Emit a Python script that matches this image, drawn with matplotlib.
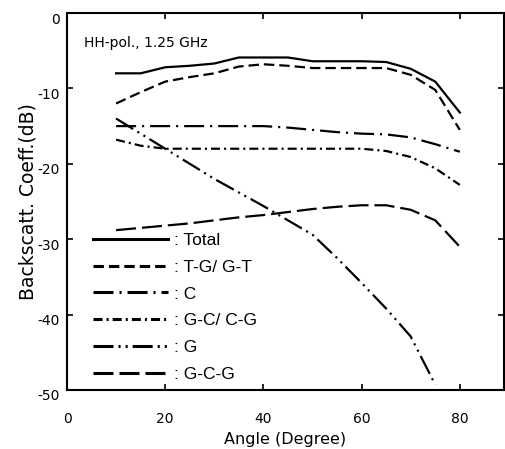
import numpy as np
import matplotlib
matplotlib.use("Agg")
import matplotlib.pyplot as plt
from matplotlib.transforms import ScaledTranslation

plt.rcParams['lines.scale_dashes'] = False
plt.rcParams['axes.unicode_minus'] = False

angles = [10, 15, 20, 25, 30, 35, 40, 45, 50, 55, 60, 65, 70, 75, 80]
total = [-8.0, -8.0, -7.2, -7.0, -6.7, -5.9, -5.9, -5.9, -6.4, -6.4, -6.4, -6.5, -7.4, -9.1, -13.2]
tg_gt = [-12.0, -10.5, -9.1, -8.5, -8.0, -7.1, -6.8, -7.0, -7.3, -7.3, -7.3, -7.3, -8.2, -10.2, -15.5]
c_dir = [-15.0, -15.0, -15.0, -15.0, -15.0, -15.0, -15.0, -15.2, -15.5, -15.8, -16.0, -16.1, -16.5, -17.4, -18.4]
gc_cg = [-16.8, -17.6, -18.0, -18.0, -18.0, -18.0, -18.0, -18.0, -18.0, -18.0, -18.0, -18.3, -19.1, -20.6, -22.8]
g_dir = [-14.0, -16.0, -18.0, -20.0, -22.0, -23.8, -25.6, -27.5, -29.4, -32.5, -35.8, -39.2, -42.9, -49.3, np.nan]
gcg = [-28.8, -28.5, -28.2, -27.9, -27.5, -27.1, -26.8, -26.4, -26.0, -25.7, -25.5, -25.5, -26.1, -27.5, -31.0]

labels = [": Total", ": T-G/ G-T", ": C", ": G-C/ C-G", ": G", ": G-C-G"]
xticks = [0, 20, 40, 60, 80]
yticks = [0, -10, -20, -30, -40, -50]

styles = [
    (0, ()),
    (0, (7.5, 3.6)),
    (0, (14.4, 4.3, 1.5, 4.3)),
    (0, (6.5, 2.9, 1.5, 2.9)),
    (0, (14.4, 3.6, 1.5, 3.6, 1.5, 3.6)),
    (0, (14.4, 4.3)),
]

fig = plt.figure(figsize=(5.05, 4.49), dpi=100)
ax = fig.add_axes([67/505, 1 - 390/449, 437/505, 377/449])

series = [total, tg_gt, c_dir, gc_cg, g_dir, gcg]
for ys, ls, lab in zip(series, styles, labels):
    if ls[1] == ():
        ax.plot(angles, ys, color='black', lw=1.6, linestyle='-', label=lab)
    else:
        ax.plot(angles, ys, color='black', lw=1.6, linestyle=ls, label=lab)

ax.set_xlim(0, 89)
ax.set_ylim(-50, 0)
ax.set_xticks(xticks)
ax.set_yticks(yticks)
ax.tick_params(direction='in', top=True, right=True, length=4, width=1.2,
               labelsize=10, pad=5)
ax.tick_params(axis='x', pad=16)
for lab in ax.get_xticklabels() + ax.get_yticklabels():
    lab.set_fontfamily('DejaVu Sans')
for lab in ax.get_yticklabels():
    lab.set_transform(lab.get_transform() + ScaledTranslation(0, -5/100, fig.dpi_scale_trans))
for s in ax.spines.values():
    s.set_linewidth(1.5)

ax.set_xlabel("Angle (Degree)", fontsize=11.5, family='DejaVu Sans', labelpad=4)
ax.set_ylabel("Backscatt. Coeff.(dB)", fontsize=13.5, family='DejaVu Sans', labelpad=0)

ax.text(0.04, 0.92, "HH-pol., 1.25 GHz", transform=ax.transAxes, fontsize=10,
        family='DejaVu Sans', va='center', ha='left')

leg = ax.legend(loc='upper left', bbox_to_anchor=(0.0595, 0.417), frameon=False,
                prop={'family': 'Liberation Sans', 'size': 12.5},
                handlelength=4.3, handletextpad=0.35, labelspacing=0.67,
                borderpad=0, borderaxespad=0)
for h in leg.get_lines():
    h.set_linewidth(2.2)

fig.savefig("out.png", dpi=100)
